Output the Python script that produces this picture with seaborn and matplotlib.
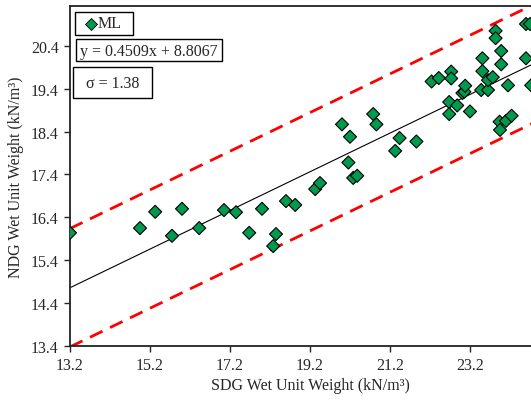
import numpy as np
import pandas as pd
import seaborn as sns
import matplotlib.pyplot as plt
from matplotlib.patches import Rectangle

# Datos (SDG vs NDG, kN/m3)
sdg = [13.20, 14.95, 15.33, 15.75, 16.00, 16.43, 17.05, 17.35, 17.68, 18.00,
       18.28, 18.35, 18.60, 18.83, 19.33, 19.45, 20.00, 20.16, 20.20, 20.28,
       20.38, 20.78, 20.86, 21.33, 21.44, 21.86, 22.24, 22.42, 22.68, 22.68,
       22.73, 22.73, 22.88, 23.01, 23.06, 23.08, 23.20, 23.48, 23.51, 23.51,
       23.65, 23.65, 23.77, 23.84, 23.84, 23.94, 23.95, 23.98, 23.98, 24.10,
       24.15, 24.24, 24.60, 24.70, 24.60, 24.73]
ndg = [16.04, 16.15, 16.53, 15.97, 16.60, 16.15, 16.57, 16.52, 16.04, 16.60,
       15.73, 16.01, 16.78, 16.69, 17.06, 17.20, 18.57, 17.68, 18.28, 17.32,
       17.37, 18.81, 18.57, 17.95, 18.25, 18.17, 19.57, 19.65, 19.09, 18.81,
       19.80, 19.64, 19.01, 19.30, 19.33, 19.47, 18.87, 19.37, 20.11, 19.81,
       19.37, 19.60, 19.67, 20.75, 20.58, 18.63, 18.44, 20.28, 19.97, 18.65,
       19.48, 18.77, 20.91, 20.91, 20.11, 19.48]

slope = 0.4509
intercept = 8.8067
sigma = 1.38

x_range = (13.2, 25.2)
y_range = (13.4, 21.33)
x_ticks = [13.2, 15.2, 17.2, 19.2, 21.2, 23.2]
y_ticks = [13.4, 14.4, 15.4, 16.4, 17.4, 18.4, 19.4, 20.4]

df = pd.DataFrame({"SDG": sdg, "NDG": ndg, "tipo": "ML"})

sns.set_style("ticks")
plt.rcParams["font.family"] = ["Liberation Serif", "DejaVu Serif"]
plt.rcParams["font.size"] = 11.5

fig = plt.figure(figsize=(5.31, 4.02), dpi=100)
# el eje derecho queda fuera de la imagen, como en el original
ax = fig.add_axes([70 / 531, 55 / 402, 480 / 531, 340 / 402])

# lineas de ajuste y de +/- sigma
xs = np.linspace(x_range[0], x_range[1], 50)
fit = slope * xs + intercept
ax.plot(xs, fit, color="black", lw=0.8, zorder=2)
ax.plot(xs, fit + sigma, color="#ff0000", lw=2.0, ls=(0, (5, 3)), zorder=2)
ax.plot(xs, fit - sigma, color="#ff0000", lw=2.0, ls=(0, (5, 3)), zorder=2)

sns.scatterplot(data=df, x="SDG", y="NDG", hue="tipo", palette=["#009a4e"],
                marker="D", s=44, edgecolor="black", linewidth=0.8,
                ax=ax, zorder=3, legend=False)

ax.set_xlim(*x_range)
ax.set_ylim(*y_range)
ax.set_xticks(x_ticks)
ax.set_yticks(y_ticks)
ax.set_xticklabels([f"{t:.1f}" for t in x_ticks])
ax.set_yticklabels([f"{t:.1f}" for t in y_ticks])
ax.tick_params(direction="out", length=4, width=1, labelsize=11.5, pad=4)

ax.set_xlabel("SDG Wet Unit Weight (kN/m³)", fontsize=11.5, labelpad=3)
ax.set_ylabel("NDG Wet Unit Weight (kN/m³)", fontsize=11.5, labelpad=5)

for s in ["left", "bottom", "top"]:
    ax.spines[s].set_linewidth(1.3)
    ax.spines[s].set_color("#222222")
ax.spines["right"].set_visible(False)

# cajas de leyenda y texto (coordenadas en pixeles de la figura)
def caja(x0, y0, x1, y1):
    r = Rectangle((x0 / 531, 1 - y1 / 402), (x1 - x0) / 531, (y1 - y0) / 402,
                  transform=fig.transFigure, fill=True, fc="white",
                  ec="black", lw=1.0, zorder=5)
    fig.add_artist(r)

caja(75, 13, 133, 36)
fig.add_artist(plt.Line2D([91 / 531], [1 - 24.5 / 402], marker="D",
                          markersize=6, color="#009a4e", mec="black", mew=0.6,
                          transform=fig.transFigure, zorder=6))
fig.text(98 / 531, 1 - 24.5 / 402, "ML", ha="left", va="center",
         fontsize=11.5, zorder=6)

caja(76, 40, 222, 62)
fig.text(149 / 531, 1 - 51.5 / 402, f"y = {slope:.4f}x + {intercept:.4f}",
         ha="center", va="center", fontsize=11.5, zorder=6)

caja(73, 68, 152, 99)
fig.text(112.5 / 531, 1 - 83.5 / 402, f"σ = {sigma:.2f}",
         ha="center", va="center", fontsize=11.5, zorder=6)

fig.savefig("out.png", dpi=100)
